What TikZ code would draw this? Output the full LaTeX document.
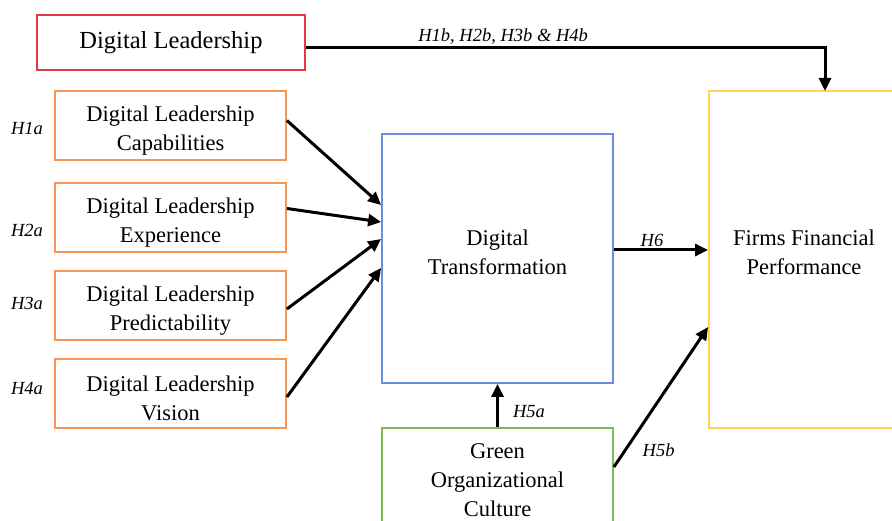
\documentclass[tikz,border=0pt]{standalone}
\usepackage{fontspec}
\setmainfont{Liberation Serif}
\usetikzlibrary{arrows.meta,positioning}

\definecolor{dlred}{RGB}{222,60,66}
\definecolor{dlorange}{RGB}{246,150,80}
\definecolor{dtblue}{RGB}{104,142,220}
\definecolor{gocgreen}{RGB}{124,188,84}
\definecolor{ffpyellow}{RGB}{255,212,84}

\begin{document}
\begin{tikzpicture}[x=1pt,y=-1pt,
    box/.style={draw,line width=1.8pt,align=center,inner sep=0pt,
        font=\fontsize{22.5}{29}\selectfont},
    boxtext/.style={align=center,inner sep=0pt,font=\fontsize{22.5}{29}\selectfont},
    dimbox/.style={box,dlorange,minimum width=231pt,minimum height=69pt},
    link/.style={line width=3pt,-{Triangle[length=13pt,width=12pt]}},
    lbl/.style={font=\fontsize{18.5}{22}\selectfont\itshape,inner sep=2pt}]
\useasboundingbox (0,0) rectangle (892,521);

\node[box,dlred,text=black,minimum width=268pt,minimum height=55pt,
    font=\fontsize{24.5}{29}\selectfont] (dl) at (171,42.5) {Digital Leadership};
\node[dimbox,label={[boxtext,yshift=-5pt]center:Digital Leadership\\Capabilities}] (cap) at (170.5,125.5) {};
\node[dimbox,label={[boxtext,yshift=-5.5pt]center:Digital Leadership\\Experience}] (exp) at (170.5,217.5) {};
\node[dimbox,label={[boxtext,yshift=-5pt]center:Digital Leadership\\Predictability}] (pre) at (170.5,305.5) {};
\node[dimbox,label={[boxtext,yshift=-4.5pt]center:Digital Leadership\\Vision}] (vis) at (170.5,393.5) {};
\node[box,dtblue,minimum width=231pt,minimum height=249pt,
    label={[boxtext,yshift=6pt]center:Digital\\Transformation}] (dt) at (497.5,258.5) {};
\node[box,gocgreen,text=black,minimum width=231pt,minimum height=104pt] (goc) at (497.5,480) {Green\\Organizational\\Culture};
\node[box,ffpyellow,minimum width=190pt,minimum height=337pt,
    label={[boxtext,yshift=7pt]center:Firms Financial\\Performance}] (ffp) at (804,259.5) {};
\coordinate (fpin) at (825,91);

% hypothesis labels
\node[lbl] (h1a) at (27,128) {H1a};
\node[lbl] (h2a) at (27,230) {H2a};
\node[lbl] (h3a) at (27,303) {H3a};
\node[lbl] (h4a) at (27,389) {H4a};

\draw[link] ([yshift=-5pt]dl.east) -| node[lbl,above,pos=0.19] {H1b, H2b, H3b \& H4b} (fpin);
\draw[link] ([yshift=5pt]cap.east) -- ([yshift=53.5pt]dt.west);
\draw[link] ([yshift=9pt]exp.east) -- ([yshift=36.5pt]dt.west);
\draw[link] ([yshift=-3.5pt]pre.east) -- ([yshift=19.5pt]dt.west);
\draw[link] ([yshift=-3.5pt]vis.east) -- ([yshift=-9.5pt]dt.west);
\draw[link] ([yshift=8.5pt]dt.east) -- node[lbl,above,xshift=-9pt] {H6} ([yshift=8.5pt]dt.east -| ffp.west);
\draw[link] (goc.north) -- node[lbl,right=12pt,yshift=-6pt] {H5a} (dt.south);
\draw[link] ([yshift=13pt]goc.east) -- node[lbl,pos=0.12,right=14pt] {H5b} ([yshift=-67.5pt]ffp.west);
\end{tikzpicture}
\end{document}
